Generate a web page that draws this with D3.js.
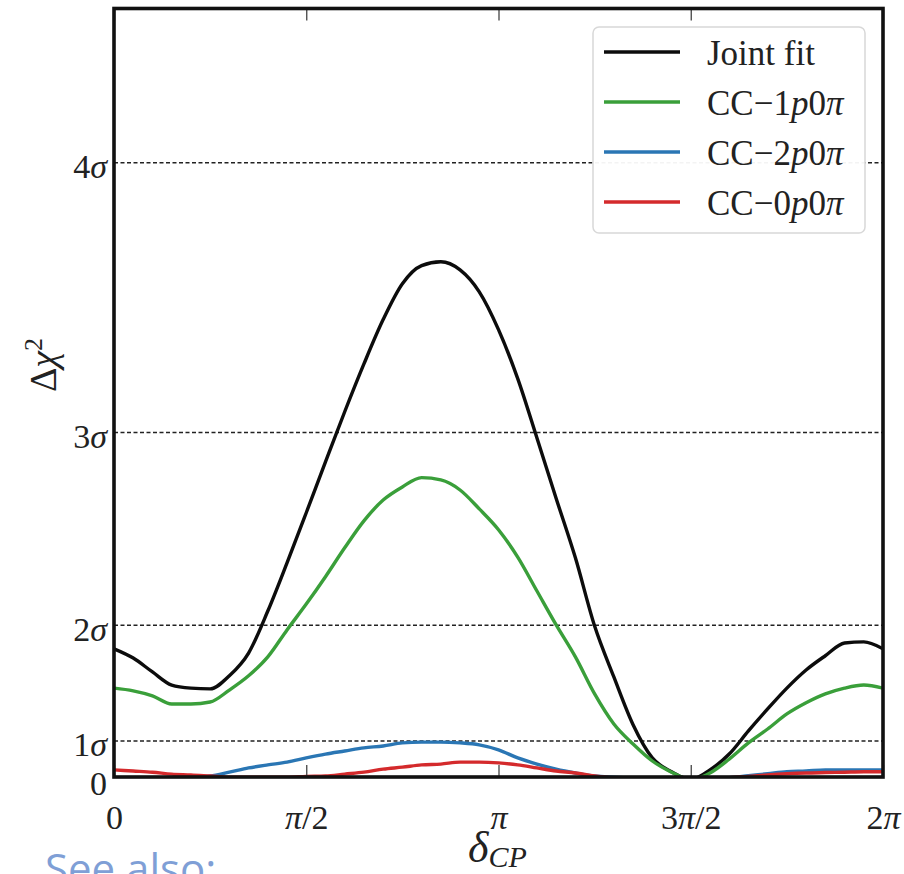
<!DOCTYPE html>
<html>
<head>
<meta charset="utf-8">
<script src="https://cdn.jsdelivr.net/npm/d3@7"></script>
<style>
  html, body { margin: 0; padding: 0; background: #fff; overflow: hidden; }
  svg { display: block; }
</style>
</head>
<body>
<div id="chart"></div>
<script>
// delta_CP sample points, in units of pi
const deltaOverPi = [0, 0.05, 0.1, 0.15, 0.2, 0.25, 0.3, 0.35, 0.4, 0.45, 0.5,
    0.55, 0.6, 0.65, 0.7, 0.75, 0.8, 0.85, 0.9, 0.95, 1.0,
    1.05, 1.1, 1.15, 1.2, 1.25, 1.3, 1.35, 1.4, 1.45, 1.5,
    1.55, 1.6, 1.65, 1.7, 1.75, 1.8, 1.85, 1.9, 1.95, 2.0];

// delta chi^2
const jointFit = [3.39, 3.15, 2.79, 2.45, 2.37, 2.35, 2.69, 3.28, 4.37, 5.62, 6.92,
    8.24, 9.54, 10.78, 11.93, 12.86, 13.33, 13.43, 13.22, 12.65, 11.67,
    10.40, 8.86, 7.29, 5.75, 3.98, 2.66, 1.42, 0.56, 0.20, 0,
    0.25, 0.66, 1.26, 1.83, 2.37, 2.84, 3.21, 3.54, 3.57, 3.39];
const cc1p0pi = [2.37, 2.30, 2.17, 1.96, 1.96, 2.01, 2.32, 2.69, 3.18, 3.88, 4.55,
    5.26, 6.01, 6.71, 7.25, 7.59, 7.83, 7.77, 7.51, 7.02, 6.48,
    5.77, 4.89, 4.01, 3.18, 2.22, 1.44, 0.92, 0.48, 0.19, 0,
    0.17, 0.53, 0.95, 1.31, 1.70, 1.99, 2.22, 2.37, 2.45, 2.37];
const cc2p0pi = [0.05, 0.05, 0.05, 0.05, 0.06, 0.09, 0.19, 0.30, 0.38, 0.45, 0.56,
    0.66, 0.74, 0.82, 0.87, 0.95, 0.97, 0.97, 0.95, 0.90, 0.77,
    0.56, 0.40, 0.27, 0.17, 0.09, 0.06, 0.04, 0.03, 0.02, 0,
    0.02, 0.05, 0.10, 0.15, 0.20, 0.22, 0.25, 0.25, 0.25, 0.25];
const cc0p0pi = [0.25, 0.22, 0.19, 0.14, 0.12, 0.09, 0.06, 0.06, 0.06, 0.06, 0.08,
    0.09, 0.14, 0.19, 0.27, 0.32, 0.38, 0.40, 0.45, 0.45, 0.43,
    0.38, 0.30, 0.22, 0.17, 0.09, 0.04, 0.03, 0.02, 0.02, 0,
    0.02, 0.05, 0.08, 0.12, 0.15, 0.17, 0.18, 0.19, 0.20, 0.20];

const seriesNames = ["Joint fit", "CC\u22121p0\u03c0", "CC\u22122p0\u03c0", "CC\u22120p0\u03c0"];
const seriesColors = ["#0c0c0c", "#3a9f3a", "#2a76b4", "#d42a2c"];

// x ticks (in units of pi) and labels
const xTickValues = [0, 0.5, 1, 1.5, 2];
const xTickLabels = ["0", "\u03c0/2", "\u03c0", "3\u03c0/2", "2\u03c0"];
// sigma levels as delta chi^2
const yTickValues = [0, 1, 4, 9, 16];
const yTickLabels = ["0", "1\u03c3", "2\u03c3", "3\u03c3", "4\u03c3"];
const gridValues = [1, 4, 9, 16];

const W = 904, H = 874;
const serif = "'Liberation Serif', 'DejaVu Serif', serif";

const x = d3.scaleLinear().domain([0, 2]).range([114, 883]);
const y = d3.scaleLinear().domain([0.065, 20]).range([777, 8.5]);

const svg = d3.select("#chart").append("svg")
    .attr("width", W)
    .attr("height", H);

svg.append("clipPath")
    .attr("id", "clip")
  .append("rect")
    .attr("x", x(0))
    .attr("y", y(20))
    .attr("width", x(2) - x(0))
    .attr("height", y.range()[0] - y(20));

// dashed sigma lines
svg.append("g").selectAll("line")
    .data(gridValues)
  .enter().append("line")
    .attr("x1", x(0))
    .attr("x2", x(2))
    .attr("y1", d => y(d))
    .attr("y2", d => y(d))
    .attr("stroke", "#222")
    .attr("stroke-width", 1.4)
    .attr("stroke-dasharray", "4,2.5");

// curves
const allSeries = [jointFit, cc1p0pi, cc2p0pi, cc0p0pi];
const line = d3.line()
    .curve(d3.curveMonotoneX)
    .x((d, i) => x(deltaOverPi[i]))
    .y(d => y(d));

svg.append("g")
    .attr("clip-path", "url(#clip)")
  .selectAll("path")
    .data(allSeries)
  .enter().append("path")
    .attr("d", line)
    .attr("fill", "none")
    .attr("stroke", (d, i) => seriesColors[i])
    .attr("stroke-width", 3.4)
    .attr("stroke-linejoin", "round");

// math-ish label: pi / sigma in italic
function mathText(sel, str) {
    sel.text(null);
    str.split(/([\u03c0\u03c3])/).filter(s => s.length).forEach(s => {
        const t = sel.append("tspan").text(s);
        if (s === "\u03c0" || s === "\u03c3") t.attr("font-style", "italic");
    });
}

// x axis, ticks pointing inwards
const xAxis = d3.axisBottom(x)
    .tickValues(xTickValues)
    .tickSize(-12)
    .tickFormat((d, i) => xTickLabels[i]);

const gx = svg.append("g")
    .attr("transform", "translate(0," + y.range()[0] + ")")
    .call(xAxis);
gx.select(".domain").remove();
gx.selectAll(".tick line").attr("stroke", "#444").attr("stroke-width", 1.3);
gx.selectAll(".tick text")
    .attr("y", 52).attr("dy", 0)
    .attr("fill", "#222")
    .style("font-family", serif).style("font-size", "34px")
    .each(function(d, i) { mathText(d3.select(this), xTickLabels[i]); });

// same ticks on top
const gxTop = svg.append("g")
    .attr("transform", "translate(0," + y(20) + ")")
    .call(d3.axisTop(x).tickValues(xTickValues).tickSize(-12).tickFormat(""));
gxTop.select(".domain").remove();
gxTop.selectAll(".tick line").attr("stroke", "#444").attr("stroke-width", 1.3);

// y axis
const yAxis = d3.axisLeft(y)
    .tickValues(yTickValues)
    .tickSize(0)
    .tickPadding(7)
    .tickFormat((d, i) => yTickLabels[i]);

const gy = svg.append("g")
    .attr("transform", "translate(" + x(0) + ",0)")
    .call(yAxis);
gy.select(".domain").remove();
gy.selectAll(".tick text")
    .attr("y", 15).attr("dy", 0)
    .attr("fill", "#222")
    .style("font-family", serif).style("font-size", "34px")
    .each(function(d, i) { mathText(d3.select(this), yTickLabels[i]); });

// frame
svg.append("rect")
    .attr("x", x(0))
    .attr("y", y(20))
    .attr("width", x(2) - x(0))
    .attr("height", y.range()[0] - y(20))
    .attr("fill", "none")
    .attr("stroke", "#111")
    .attr("stroke-width", 3.6);

// legend
const legend = svg.append("g").attr("transform", "translate(593,27)");
legend.append("rect")
    .attr("width", 272)
    .attr("height", 206)
    .attr("rx", 6)
    .attr("fill", "#fff")
    .attr("fill-opacity", 0.95)
    .attr("stroke", "#d8d8d8")
    .attr("stroke-width", 1.5);

const items = legend.selectAll("g.item")
    .data(seriesNames)
  .enter().append("g")
    .attr("class", "item")
    .attr("transform", (d, i) => "translate(0," + (25 + i * 50) + ")");

items.append("line")
    .attr("x1", 11).attr("x2", 87)
    .attr("stroke", (d, i) => seriesColors[i])
    .attr("stroke-width", 3.6);

items.append("text")
    .attr("x", 114)
    .attr("y", 13)
    .attr("fill", "#222")
    .style("font-family", serif)
    .style("font-size", "35px")
    .each(function(d) {
        const t = d3.select(this);
        if (d === "Joint fit") { t.text(d); return; }
        // CC-Np0pi : p and pi italic
        t.append("tspan").text(d.slice(0, 4));
        t.append("tspan").attr("font-style", "italic").text("p");
        t.append("tspan").text("0");
        t.append("tspan").attr("font-style", "italic").text("\u03c0");
    });

// axis titles
const xTitle = svg.append("text")
    .attr("x", 468)
    .attr("y", 862)
    .attr("fill", "#222")
    .style("font-family", serif);
xTitle.append("tspan").attr("font-style", "italic").style("font-size", "44px").text("\u03b4");
xTitle.append("tspan").attr("font-style", "italic").style("font-size", "30px").attr("dy", 5).text("CP");

const yTitle = svg.append("text")
    .attr("transform", "translate(56,365) rotate(-90)")
    .attr("text-anchor", "middle")
    .attr("fill", "#222")
    .style("font-family", serif)
    .style("font-size", "38px");
yTitle.append("tspan").text("\u0394");
yTitle.append("tspan").attr("font-style", "italic").text("\u03c7");
yTitle.append("tspan").attr("dy", -14).style("font-size", "26px").text("2");

// page text below the figure, cut off by the window as in the screenshot
svg.append("text")
    .attr("x", 45)
    .attr("y", 884)
    .attr("fill", "#7f9fd6")
    .style("font-family", "'Open Sans', sans-serif")
    .style("font-size", "42px")
    .text("See also:");
</script>
</body>
</html>
